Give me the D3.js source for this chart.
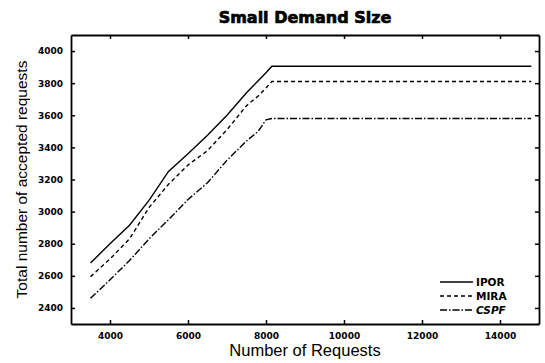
<!DOCTYPE html>
<html>
<head>
<meta charset="utf-8">
<script src="https://cdn.jsdelivr.net/npm/d3@7"></script>
<style>
  body { margin: 0; background: #fff; }
  svg { display: block; }
</style>
</head>
<body>
<svg id="chart"></svg>
<script>
const requests = [3500, 4000, 4500, 5000, 5500, 6000, 6500, 7000, 7500, 7800, 8000, 8150, 14800];
const ipor = [2680, 2800, 2915, 3070, 3250, 3360, 3475, 3600, 3740, 3815, 3865, 3905, 3905];
const mira = [2595, 2705, 2830, 3025, 3170, 3290, 3380, 3510, 3660, 3720, 3770, 3810, 3810];
const cspf = [2460, 2575, 2695, 2830, 2950, 3075, 3180, 3320, 3440, 3500, 3572, 3580, 3580];
const seriesNames = ["IPOR", "MIRA", "CSPF"];
const xTicks = [4000, 6000, 8000, 10000, 12000, 14000];
const yTicks = [2400, 2600, 2800, 3000, 3200, 3400, 3600, 3800, 4000];

const width = 545, height = 363;
const margin = { top: 35, right: 6, bottom: 39, left: 71 };
const innerWidth = width - margin.left - margin.right;
const innerHeight = height - margin.top - margin.bottom;

const svg = d3.select("#chart")
    .attr("width", width)
    .attr("height", height);

const g = svg.append("g")
    .attr("transform", `translate(${margin.left},${margin.top})`);

const x = d3.scaleLinear().domain([3000, 15000]).range([0, innerWidth]);
const y = d3.scaleLinear().domain([2300, 4100]).range([innerHeight, 0]);

const tickFont = "bold 9px 'DejaVu Sans', sans-serif";
const fmt = d3.format("d");

// axes: inward ticks on all four sides
const bottomAxis = g.append("g")
    .attr("transform", `translate(0,${innerHeight})`)
    .call(d3.axisBottom(x).tickValues(xTicks).tickFormat(fmt).tickSizeInner(-4).tickSizeOuter(0).tickPadding(9));
const topAxis = g.append("g")
    .call(d3.axisTop(x).tickValues(xTicks).tickSizeInner(-4).tickSizeOuter(0));
const leftAxis = g.append("g")
    .call(d3.axisLeft(y).tickValues(yTicks).tickFormat(fmt).tickSizeInner(-4).tickSizeOuter(0).tickPadding(8));
const rightAxis = g.append("g")
    .attr("transform", `translate(${innerWidth},0)`)
    .call(d3.axisRight(y).tickValues(yTicks).tickSizeInner(-4).tickSizeOuter(0));

// top and right only carry ticks
topAxis.selectAll("text").remove();
rightAxis.selectAll("text").remove();

[bottomAxis, topAxis, leftAxis, rightAxis].forEach(a => {
    a.select(".domain").attr("stroke", "#000").attr("stroke-width", 1.8);
    a.selectAll(".tick line").attr("stroke", "#000").attr("stroke-width", 1.5);
    a.selectAll("text")
        .style("font", tickFont)
        .attr("fill", "#000");
});

// lines
const lineStyles = {
    IPOR: "none",
    MIRA: "4,3",
    CSPF: "7,2,1.5,2"
};
const seriesData = [ipor, mira, cspf];

const line = d3.line()
    .x((d, i) => x(requests[i]))
    .y(d => y(d));

seriesData.forEach((vals, k) => {
    g.append("path")
        .datum(vals)
        .attr("fill", "none")
        .attr("stroke", "#000")
        .attr("stroke-width", 1.4)
        .attr("stroke-dasharray", lineStyles[seriesNames[k]])
        .attr("d", line);
});

// legend
const legend = g.append("g")
    .attr("transform", `translate(${440 - margin.left},${282 - margin.top})`);

seriesNames.forEach((name, i) => {
    const row = legend.append("g").attr("transform", `translate(0,${i * 14})`);
    row.append("line")
        .attr("x1", 0).attr("x2", 33)
        .attr("y1", 0).attr("y2", 0)
        .attr("stroke", "#000")
        .attr("stroke-width", 1.3)
        .attr("stroke-dasharray", lineStyles[name]);
    row.append("text")
        .attr("x", 36).attr("y", 4)
        .style("font", "bold 10.5px 'DejaVu Sans', sans-serif")
        .style("font-style", name === "CSPF" ? "italic" : "normal")
        .text(name);
});

// title and axis labels
svg.append("text")
    .attr("x", margin.left + innerWidth / 2)
    .attr("y", 23)
    .attr("text-anchor", "middle")
    .attr("stroke", "#000")
    .attr("stroke-width", 0.7)
    .style("font", "bold 16px 'DejaVu Sans', sans-serif")
    .text("Small Demand Size");

svg.append("text")
    .attr("x", margin.left + innerWidth / 2)
    .attr("y", 356)
    .attr("text-anchor", "middle")
    .style("font", "16.5px 'Liberation Sans', Arial, sans-serif")
    .text("Number of Requests");

svg.append("text")
    .attr("transform", `translate(27,${margin.top + innerHeight / 2}) rotate(-90)`)
    .attr("text-anchor", "middle")
    .style("font", "15.5px 'Liberation Sans', Arial, sans-serif")
    .text("Total number of accepted requests");
</script>
</body>
</html>
